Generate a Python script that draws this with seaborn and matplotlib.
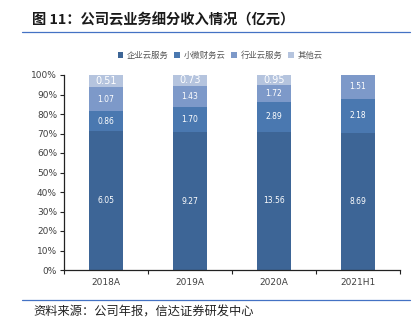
import matplotlib
matplotlib.use("Agg")
import matplotlib.pyplot as plt
import seaborn as sns
import numpy as np
import pandas as pd

categories = ["2018A", "2019A", "2020A", "2021H1"]
series_names = ["企业云服务", "小微财务云", "行业云服务", "其他云"]
enterprise = [6.05, 9.27, 13.56, 8.69]
smallbiz = [0.86, 1.70, 2.89, 2.18]
industry = [1.07, 1.43, 1.72, 1.51]
other = [0.51, 0.73, 0.95, 0.0]
colors = ["#3D6596", "#4A78B0", "#7D99C9", "#B5C4DE"]
yticklabels = ["0%", "10%", "20%", "30%", "40%", "50%", "60%", "70%", "80%", "90%", "100%"]

sns.set_theme(style="white")
plt.rcParams['font.family'] = ['Noto Sans CJK SC', 'DejaVu Sans']
plt.rcParams['axes.unicode_minus'] = False

fig = plt.figure(figsize=(4.12, 3.27), dpi=100)
ax = fig.add_axes([64/412, 1-270/327, 336/412, 195/327])

vals = np.array([enterprise, smallbiz, industry, other])
totals = vals.sum(axis=0)
pct = vals / totals * 100
bottom = np.zeros(len(categories))
for i, name in enumerate(series_names):
    df = pd.DataFrame({"cat": categories, "v": pct[i], "raw": vals[i]})
    sns.barplot(data=df, x="cat", y="v", bottom=bottom, color=colors[i],
                width=0.4, ax=ax, label=name, saturation=1, edgecolor="none")
    for j in range(len(categories)):
        if vals[i][j] > 0:
            fs = 7 if i == 3 else 5.5
            ax.text(j, bottom[j] + pct[i][j] / 2, f"{vals[i][j]:.2f}", ha="center", va="center",
                    color="white", fontsize=fs, family="DejaVu Sans")
    bottom = bottom + pct[i]

handles, labels = ax.get_legend_handles_labels()
if ax.get_legend() is not None:
    ax.get_legend().remove()

ax.set_xlim(-0.5, 3.5)
ax.set_ylim(0, 100)
ax.set_yticks(np.arange(0, 101, 10))
ax.set_yticklabels(yticklabels, fontsize=6.5, color="#404040", family="DejaVu Sans")
ax.set_xticks(range(len(categories)))
ax.set_xticklabels(categories, fontsize=6.5, color="#404040", family="DejaVu Sans")
ax.set_xticks([-0.5, 0.5, 1.5, 2.5, 3.5], minor=True)
ax.tick_params(axis="x", which="major", length=0, pad=6)
ax.tick_params(axis="x", which="minor", length=3, width=0.8, color="#222222", direction="out", bottom=True)
ax.tick_params(axis="y", length=3, width=0.8, color="#222222", direction="out", left=True, pad=2)
ax.set_xlabel("")
ax.set_ylabel("")
for s in ["top", "right"]:
    ax.spines[s].set_visible(False)
for s in ["left", "bottom"]:
    ax.spines[s].set_color("#222222")
    ax.spines[s].set_linewidth(0.9)

fig.legend(handles, labels, loc="center", bbox_to_anchor=(220/412, 1-55/327), ncol=4,
           frameon=False, fontsize=6, handlelength=0.7, handleheight=0.7,
           handletextpad=0.4, columnspacing=0.7, labelcolor="#555555")

fig.text(32/412, 1-20/327, "图 11：公司云业务细分收入情况（亿元）", fontsize=10.3, fontweight="bold",
         color="#1a1a1a", va="center", ha="left")
fig.add_artist(plt.Line2D([22/412, 410/412], [1-32/327, 1-32/327], color="#4472C4", lw=0.9))
fig.add_artist(plt.Line2D([22/412, 410/412], [1-300/327, 1-300/327], color="#4472C4", lw=0.9))
fig.text(33/412, 1-312/327, "资料来源：公司年报，信达证券研发中心", fontsize=8.8, style="italic",
         color="#222222", va="center", ha="left")

fig.savefig("out.png", dpi=100)
